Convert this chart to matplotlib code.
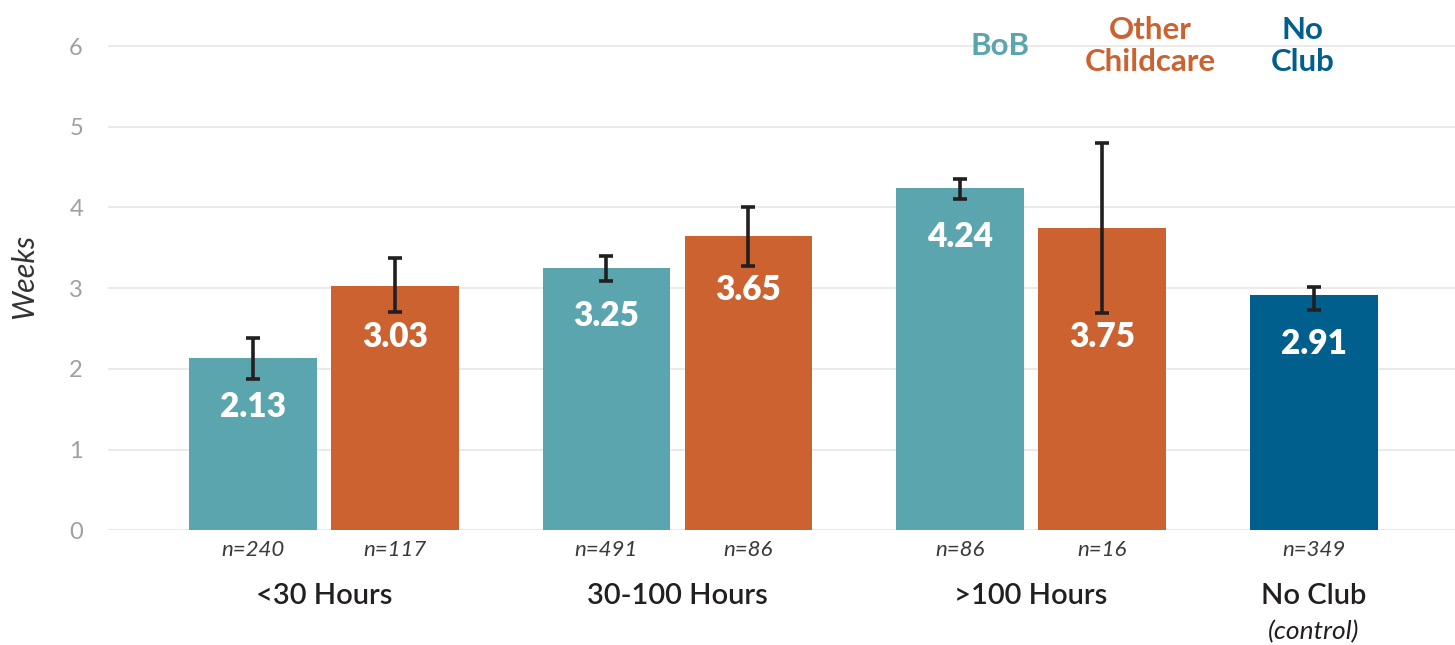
import matplotlib
matplotlib.use('Agg')
import matplotlib.pyplot as plt
import numpy as np

plt.rcParams['font.family'] = ['Lato', 'DejaVu Sans']

# values
groups = ['<30 Hours', '30-100 Hours', '>100 Hours', 'No Club']
series = ['BoB', 'Other Childcare', 'No Club']
means = [2.13, 3.03, 3.25, 3.65, 4.24, 3.75, 2.91]
err_low = [1.88, 2.70, 3.09, 3.28, 4.11, 2.69, 2.73]
err_high = [2.38, 3.38, 3.40, 4.00, 4.35, 4.80, 3.01]
n_labels = ['n=240', 'n=117', 'n=491', 'n=86', 'n=86', 'n=16', 'n=349']
bar_series = [0, 1, 0, 1, 0, 1, 2]

colors = ['#5BA5AE', '#CB6230', '#005F8C']

# layout: three paired groups then a single control bar
group_step = 2.49
xs = []
for g in range(3):
    xs += [g * group_step, g * group_step + 1]
xs.append(3 * group_step)
xs = np.array(xs)
group_centers = [g * group_step + 0.5 for g in range(3)] + [3 * group_step]

fig = plt.figure(figsize=(14.55, 6.45), dpi=100)
ax = fig.add_axes([0.0742, 0.178, 0.9258, 0.788])

bar_colors = [colors[s] for s in bar_series]
ax.bar(xs, means, width=0.9, color=bar_colors, zorder=2)

m = np.array(means)
yerr = np.vstack([m - np.array(err_low), np.array(err_high) - m])
ax.errorbar(xs, means, yerr=yerr, fmt='none', ecolor='#231f20',
            elinewidth=2.6, capsize=5, capthick=2.6, zorder=3)

# value labels inside bars, kept below the error bar
for x, v, lo in zip(xs, means, err_low):
    y = min(v - 0.6, lo - 0.3)
    ax.text(x, y, f'{v:.2f}', ha='center', va='center', color='white',
            fontsize=24, fontweight='heavy', zorder=4)

# n labels and group labels under the axis
for x, lab in zip(xs, n_labels):
    ax.text(x, -0.24, lab, ha='center', va='center', fontsize=16,
            style='italic', color='#3a3a3a', clip_on=False)
for x, lab in zip(group_centers, groups):
    ax.text(x, -0.82, lab, ha='center', va='center', fontsize=21,
            fontweight='semibold', color='#231f20', clip_on=False)
ax.text(group_centers[3], -1.26, '(control)', ha='center', va='center',
        fontsize=19, style='italic', color='#231f20', clip_on=False)

# series legend as coloured text
legend_x = [5.26, 6.32, 7.39]
legend_txt = ['BoB', 'Other\nChildcare', 'No\nClub']
for x, t, c in zip(legend_x, legend_txt, colors):
    ax.text(x, 6.0, t, ha='center', va='center', color=c, fontsize=22.5,
            fontweight='bold', linespacing=1.2, clip_on=False)

ax.set_xlim(-1.02, 8.465)
ax.set_ylim(0, 6.3)
ax.set_yticks(range(7))
ax.set_xticks([])
ax.tick_params(axis='y', length=0, labelsize=17, labelcolor='#a0a0a0', pad=18)
ax.grid(axis='y', color='#e6e6e6', linewidth=1.2, zorder=0)
ax.set_axisbelow(True)
for s in ax.spines.values():
    s.set_visible(False)
ax.set_ylabel('Weeks', fontsize=22, style='italic', color='#333333', labelpad=22)

fig.savefig('out.png', dpi=100)
